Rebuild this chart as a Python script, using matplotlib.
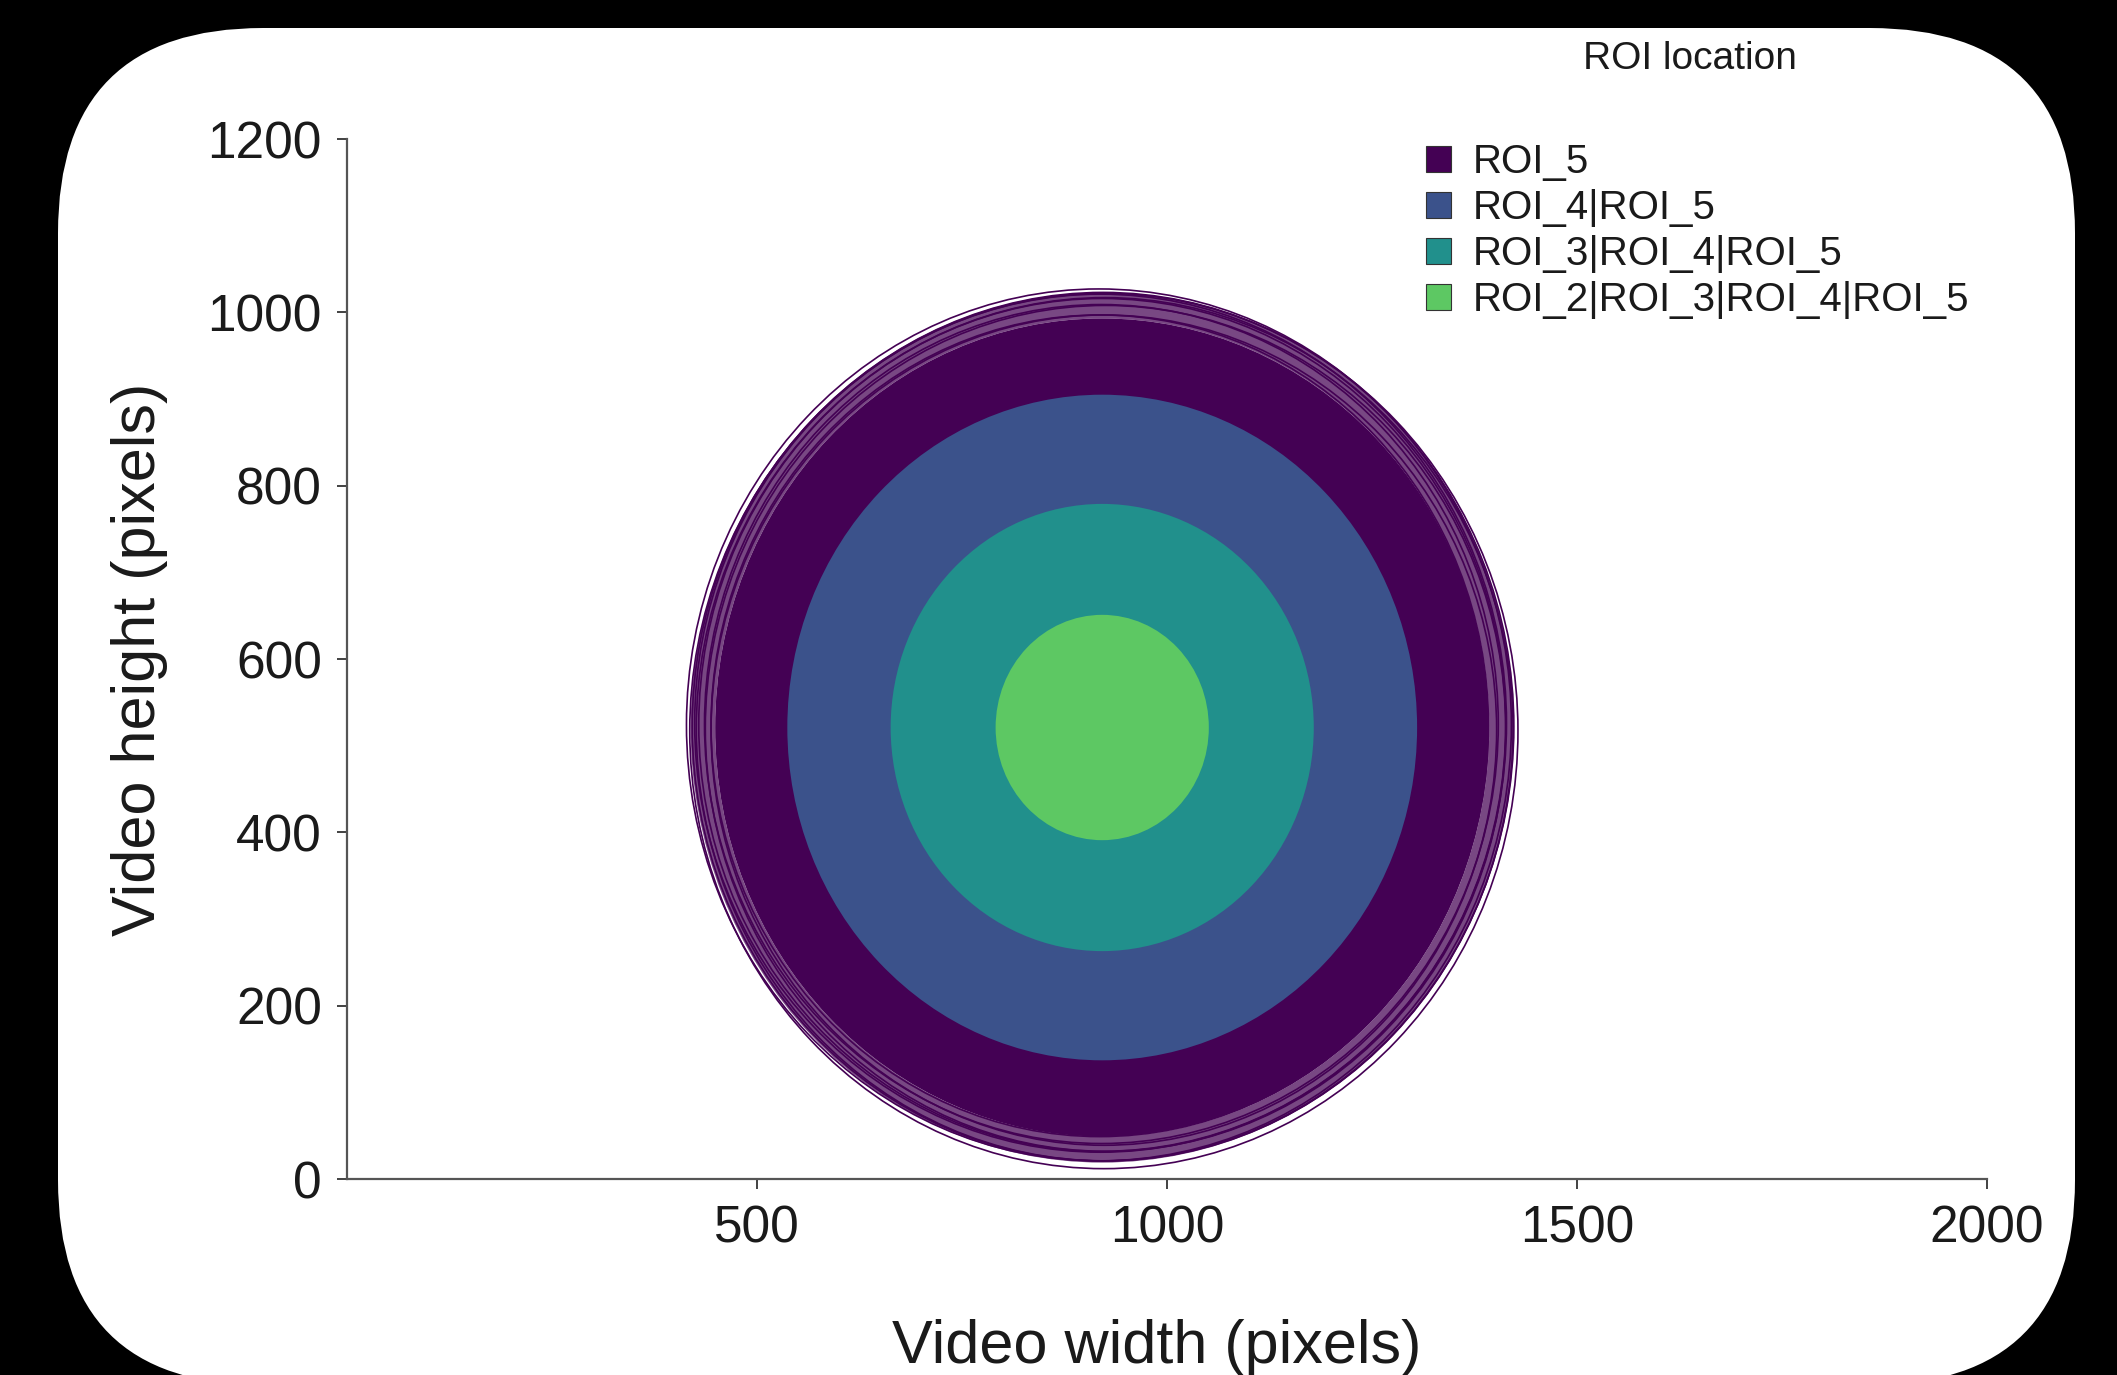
import matplotlib.pyplot as plt
from matplotlib.patches import Circle, FancyBboxPatch, Patch, Wedge
from matplotlib.transforms import IdentityTransform

plt.rcParams['font.family'] = ['Liberation Sans', 'DejaVu Sans']

# ROI zones of the tracked path, outer zone first
roi_labels = ["ROI_5", "ROI_4|ROI_5", "ROI_3|ROI_4|ROI_5", "ROI_2|ROI_3|ROI_4|ROI_5"]
roi_colors = ["#440154", "#3B528B", "#21908C", "#5DC863"]
roi_radius = [472, 384, 258, 130]
center_x = 921
center_y = 521

# sparser track band along the arena wall (ROI_5 only)
wall_inner = 472
wall_outer = 502
edge_radius = [474, 479, 484, 488, 492, 495, 498, 501, 503, 505]
edge_dx = [-3, 2, -1, 4, 0, -2, 3, 1, -4, 2]
edge_dy = [2, -3, 4, -1, 3, 5, -2, 1, 3, -4]

x_ticks = [500, 1000, 1500, 2000]
y_ticks = [0, 200, 400, 600, 800, 1000, 1200]

fig = plt.figure(figsize=(21.17, 13.75), dpi=100, facecolor='black')

# white rounded panel on black background (pixel coords)
panel = FancyBboxPatch((58, -10), 2017, 1357,
                       boxstyle="round,pad=0,rounding_size=205",
                       transform=IdentityTransform(),
                       facecolor='white', edgecolor='none', zorder=-10)
fig.patches.append(panel)

ax = fig.add_axes([0.1639, 0.1425, 0.7747, 0.7564])
ax.patch.set_visible(False)

ax.add_patch(Wedge((center_x, center_y), wall_outer, 0, 360,
                   width=wall_outer - wall_inner, facecolor=roi_colors[0],
                   edgecolor='none', alpha=0.72))
for r, dx, dy in zip(edge_radius, edge_dx, edge_dy):
    ax.add_patch(Circle((center_x + dx, center_y + dy), r, fill=False,
                        edgecolor=roi_colors[0], linewidth=1.2))

for r, c in zip(roi_radius, roi_colors):
    ax.add_patch(Circle((center_x, center_y), r, facecolor=c, edgecolor='none'))

ax.set_xlim(0, 2000)
ax.set_ylim(0, 1200)
ax.set_xticks(x_ticks)
ax.set_yticks(y_ticks)

ax.spines['top'].set_visible(False)
ax.spines['right'].set_visible(False)
for s in ['left', 'bottom']:
    ax.spines[s].set_color('#555555')
    ax.spines[s].set_linewidth(1.6)
ax.tick_params(length=7, width=1.3, color='#333333', labelsize=37,
               pad=11, labelcolor='#1a1a1a')

ax.set_xlabel("Video width (pixels)", fontsize=44, color='#1a1a1a')
ax.xaxis.set_label_coords(0.494, -0.135)
ax.set_ylabel("Video height (pixels)", fontsize=44, color='#1a1a1a')
ax.yaxis.set_label_coords(-0.109, 0.5)

handles = [Patch(facecolor=c, edgecolor='#333333', linewidth=0.8, label=l)
           for c, l in zip(roi_colors, roi_labels)]
fig.legend(handles=handles, loc='upper left',
           bbox_to_anchor=(1426 / 2117, 1 - 143 / 1375),
           frameon=False, fontsize=29, handlelength=0.62, handleheight=0.62,
           handletextpad=0.55, labelspacing=0.2, borderpad=0, borderaxespad=0,
           labelcolor='#1a1a1a')
fig.text(1690 / 2117, 1 - 59 / 1375, "ROI location", ha='center', va='center',
         fontsize=28, color='#1a1a1a')

fig.savefig('out.png', dpi=100, facecolor='black')
